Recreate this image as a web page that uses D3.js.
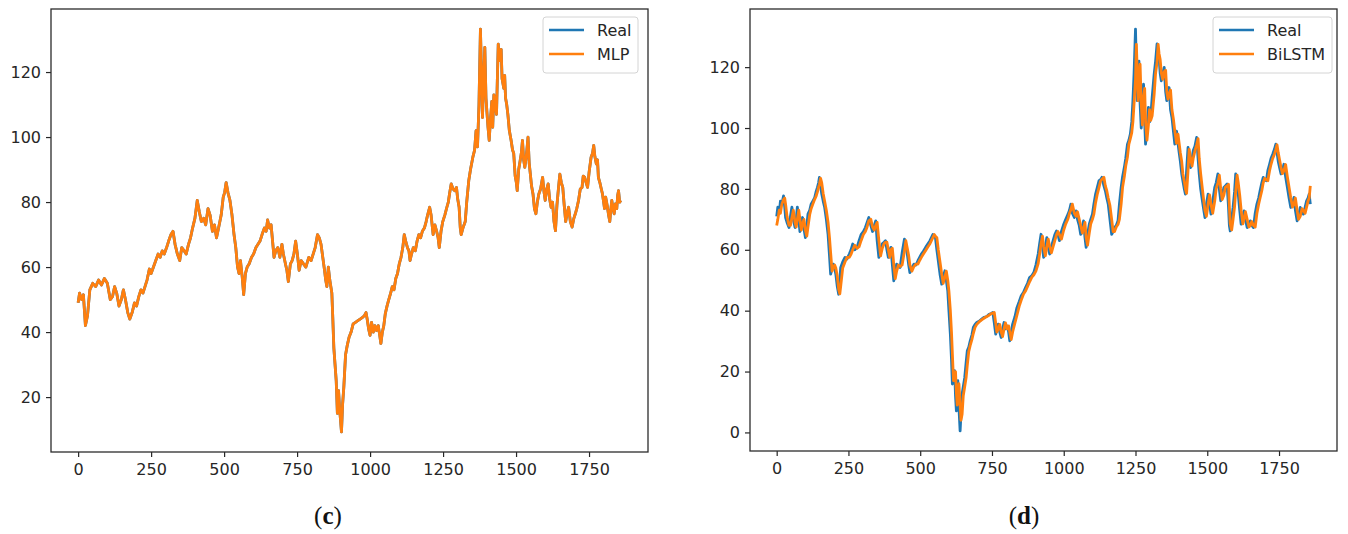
<!DOCTYPE html>
<html>
<head>
<meta charset="utf-8">
<script src="https://cdn.jsdelivr.net/npm/d3@7"></script>
<style>
  body { margin: 0; background: #fff; }
  .tick text { font-family: "DejaVu Sans", sans-serif; font-size: 16px; fill: #262626; }
  .tick line { stroke: #262626; stroke-width: 1.2; }
  .legend text { font-family: "DejaVu Sans", sans-serif; font-size: 16px; fill: #262626; }
  .caption { font-family: "Liberation Serif", serif; font-size: 25px; fill: #111; }
</style>
</head>
<body>
<svg id="chart" width="1348" height="534"></svg>
<script>
// panel (c): index, real price and MLP prediction (curves coincide at this scale)
var idxC = [0,5,12,18,25,32,40,50,60,70,80,90,100,110,118,125,132,140,148,155,162,170,177,185,193,200,208,215,222,229,236,244,250,258,266,274,281,288,295,303,310,318,325,332,340,348,355,363,370,378,385,392,400,408,415,422,430,437,445,452,460,467,474,481,490,497,502,507,513,520,527,534,540,546,551,556,562,567,573,579,586,594,601,609,616,623,630,638,644,649,655,661,666,671,677,684,691,698,703,710,715,720,727,733,739,745,751,757,764,772,780,790,798,805,812,820,826,832,838,844,848,852,857,862,869,872,876,880,884,888,892,896,902,906,910,913,916,922,928,935,942,950,958,966,974,980,986,990,995,1000,1005,1011,1016,1022,1028,1033,1037,1042,1047,1052,1058,1064,1070,1076,1082,1088,1094,1100,1106,1112,1117,1122,1128,1133,1137,1142,1148,1155,1161,1167,1173,1179,1186,1192,1197,1204,1209,1216,1222,1228,1233,1237,1243,1249,1256,1263,1268,1273,1278,1284,1290,1296,1300,1305,1309,1312,1318,1326,1331,1338,1344,1352,1358,1363,1368,1373,1378,1382,1385,1389,1393,1397,1400,1404,1408,1412,1417,1420,1424,1429,1433,1436,1439,1442,1445,1449,1452,1458,1461,1464,1468,1472,1477,1483,1488,1492,1497,1501,1504,1509,1514,1518,1522,1526,1530,1535,1541,1545,1549,1553,1558,1563,1568,1573,1578,1584,1591,1596,1600,1605,1610,1615,1620,1625,1630,1635,1640,1645,1650,1655,1660,1665,1670,1676,1680,1686,1692,1698,1703,1708,1714,1720,1726,1730,1735,1740,1745,1750,1757,1762,1766,1770,1775,1779,1782,1787,1792,1796,1800,1803,1807,1812,1817,1821,1825,1828,1832,1836,1840,1845,1848,1851,1855,1859];
var realC = [49,52,50,51.5,42,45,53,55,54,56,54.5,56.5,55,50,51,54,52,48,50,53,50,46,44,46,49,48,51,53,52,54,56,59.4,58,60,62,64,63,65,64,66,68,70,71,67,64,62,66,65,64,67,69,72,75,80.5,77,74,75,73,78,76,71,73,69,72,76,81.5,83,86,83,80.5,76,70,66,60,58,62,57,51.5,58,60,61,63,64,66,67,68,70,72,71,74.5,72,73,68,63,65,66,63,67,64,61,59,55.5,61,62,64,68,64,59,62,61,60,63,62,64,66,70,69,67,63,59,56,54,60,56,52,45,35,30,25,15,22,16,9.3,18,23,28,33,36,38.4,40,42.5,43,43.5,44,44.5,45,46,44,41,39,43,40,42,40.5,42,39,36.5,40,42,45.6,48,50,51.8,54,53,56.5,58,61,63,66,70,68,66,65,62,64,66,65,68,70,69,71,72,74,76,78.4,76,70,73,71,69,66,71,74,76,78.4,80,83,85.6,84,83.5,84.5,81,78.4,72,70,72,74,80,86.6,90,93.8,96,102,97,110,133.2,118,106,118,127.6,112,108,103,99,105,111,103,113,110,107,118,128.6,125,123.5,127,118,115,119,112,110,107,102,99,96,95,88,86,83.5,90,92.7,95,99,93,90.7,94,100,92,88.6,85,82.5,78,76.4,80,82.5,84,87.6,83,80.5,84,85.6,81,78.4,80,74,71.2,79,84,88.6,86,84.5,79,74,77,78.4,74,72.3,75,76.4,78,80.5,84,84.5,88,87.6,86,84.5,89,93.8,95,97.4,94,91.7,93,87.6,86,84,82.5,80,78,81.5,79,76,74,78,80.5,78,76.4,79.4,78,82,83.5,80,80.5];
var mlpC = [49,52,50,51.5,42,45,53,55,54,56,54.5,56.5,55,50,51,54,52,48,50,53,50,46,44,46,49,48,51,53,52,54,56,59.4,58,60,62,64,63,65,64,66,68,70,71,67,64,62,66,65,64,67,69,72,75,80.5,77,74,75,73,78,76,71,73,69,72,76,81.5,83,86,83,80.5,76,70,66,60,58,62,57,51.5,58,60,61,63,64,66,67,68,70,72,71,74.5,72,73,68,63,65,66,63,67,64,61,59,55.5,61,62,64,68,64,59,62,61,60,63,62,64,66,70,69,67,63,59,56,54,60,56,52,45,35,30,25,15,22,16,9.3,18,23,28,33,36,38.4,40,42.5,43,43.5,44,44.5,45,46,44,41,39,43,40,42,40.5,42,39,36.5,40,42,45.6,48,50,51.8,54,53,56.5,58,61,63,66,70,68,66,65,62,64,66,65,68,70,69,71,72,74,76,78.4,76,70,73,71,69,66,71,74,76,78.4,80,83,85.6,84,83.5,84.5,81,78.4,72,70,72,74,80,86.6,90,93.8,96,102,97,110,133.2,118,106,118,127.6,112,108,103,99,105,111,103,113,110,107,118,128.6,125,123.5,127,118,115,119,112,110,107,102,99,96,95,88,86,83.5,90,92.7,95,99,93,90.7,94,100,92,88.6,85,82.5,78,76.4,80,82.5,84,87.6,83,80.5,84,85.6,81,78.4,80,74,71.2,79,84,88.6,86,84.5,79,74,77,78.4,74,72.3,75,76.4,78,80.5,84,84.5,88,87.6,86,84.5,89,93.8,95,97.4,94,91.7,93,87.6,86,84,82.5,80,78,81.5,79,76,74,78,80.5,78,76.4,79.4,78,82,83.5,80,80.5];

// panel (d): index, real price and BiLSTM prediction
var idxD = [0,4,9,13,18,24,28,31,36,43,48,53,58,64,68,72,77,81,86,90,95,100,105,109,115,120,126,132,137,142,146,149,153,157,162,167,173,179,184,188,193,197,202,206,211,216,220,223,230,238,245,253,259,265,272,280,287,294,302,309,315,321,328,334,340,345,350,356,362,368,374,379,384,389,394,398,403,408,413,418,424,430,437,445,450,455,460,464,471,478,485,492,498,504,511,519,527,534,539,544,549,553,558,563,569,575,580,586,591,596,600,605,609,612,616,620,623,626,629,631,635,639,642,646,650,655,660,664,669,674,680,685,691,697,705,714,722,730,734,740,747,753,758,763,767,772,777,782,787,792,797,803,808,812,817,822,830,837,845,852,860,867,874,881,889,896,903,911,916,921,926,930,936,941,946,951,957,963,969,975,980,985,992,1000,1007,1015,1020,1025,1030,1037,1043,1048,1054,1059,1065,1069,1074,1078,1083,1089,1094,1100,1105,1111,1117,1123,1128,1133,1140,1145,1150,1155,1161,1167,1172,1177,1183,1189,1194,1200,1205,1211,1216,1222,1227,1232,1237,1241,1245,1250,1253,1256,1259,1262,1266,1270,1274,1278,1282,1285,1290,1295,1299,1303,1308,1315,1320,1325,1329,1332,1336,1340,1345,1350,1355,1359,1363,1367,1372,1377,1382,1387,1393,1398,1402,1406,1411,1415,1420,1424,1428,1433,1437,1442,1447,1451,1457,1463,1468,1472,1477,1483,1488,1492,1497,1503,1508,1513,1519,1526,1531,1537,1542,1547,1552,1558,1563,1569,1574,1577,1580,1585,1590,1595,1599,1604,1608,1613,1618,1624,1628,1633,1639,1645,1650,1655,1661,1667,1673,1679,1684,1690,1695,1700,1706,1711,1717,1722,1728,1734,1739,1743,1747,1752,1757,1762,1767,1773,1779,1785,1791,1797,1802,1807,1813,1818,1824,1830,1835,1841,1846,1851,1855,1859];
var realD = [71,74,72,76,75,77.7,74,70.6,69,67.3,71,74,70,67.3,70,74,70,66,69,70.6,67,64,68,71.7,73,75,76,77,79,80.5,82,83.8,81,78.3,76,74,70,65,58,52,54,55.3,54,52,48,45.4,50,54.2,56,57.5,57,58.6,60,61.9,60,60.8,63,65,66,67.3,69,70.6,68,66,68,69.5,63,57.5,60,62,62.5,63,60,57.5,60,60.8,55,49.8,53,55.3,54.5,54.2,59,63.5,61,58.6,55,52.5,54,55.3,55,56.4,57.5,58.6,59.5,60.8,62,63,64,65,64.5,64,60,56.4,52,48.7,51,53.1,50,46.5,40,32.3,24,15.9,18,20.3,12,7.1,13,17,8,0.5,6,12.6,15,18,23,26.8,28,30,32,34.5,35.5,36.1,36.5,37.2,37.8,38,38.3,38.8,39,39.4,36,32.3,34,35.6,33,31.2,34,36.1,34,35,33,30.1,33,35.6,38,41,43,44.9,46,47.6,49,50.9,51.5,52.6,55,58.6,62,65.1,61,57.5,61,64,61,58.6,61,63,65,66.2,65,63,66,68.4,70,71.7,73,75,72,70.6,72.8,70,68,65.1,67,69.5,64,60.8,65,68.4,70,71.7,75,78.3,80.5,82.7,83,83.8,81,79.4,77,75,70,65.1,66,67.3,68,69.5,75,80.5,84,87,90,94.7,96,98,102,109,118,132.5,120,109,115,122,108,100,110,114.4,102,94.7,100,106.8,102,103.5,110,117.7,122,127.6,124,123.2,118,115.5,118,119.9,112,109,111,113.3,106,103.5,99,94.7,99,95,92,89.2,85,82.7,80,78.3,86,93.6,90,87,90,92.5,94,96.9,90,84.9,80,76.1,73,70.6,75,78.3,75,71.7,76,80.5,82,84.9,80,76.1,78,80.5,81,81.6,74,68,66.2,70,74,79,84.9,82,78.3,73,68.4,70,72.8,70,67.3,68,69.5,68,67.3,72,75,77,79.4,82,83.8,83,82.7,86,88.1,90,91.4,93,94.7,92,89.2,87,84.9,86,88.1,84,80.5,77,73.9,75,77.2,73,69.5,71,73.9,73,71.7,74,76.1,77,78.3,75];
var bilstmD = [68,70,73,72,75,76.5,77,75,71,68,68,70.5,73,69,67.5,70,73,70,66.5,68.5,70,66.5,64.5,67.5,71.5,73.5,75,76.5,77.5,79,80.5,81.5,83.5,82,78.5,76,73,69,64,59,53,54,55,54,51.5,47,45.5,48,54,56,57.5,57.5,58.5,60,61.5,60.5,61,63,65,66,67.5,69.5,70,67.5,66.5,68,69,63,58,60.5,62,62.5,62.5,60,57.5,60,60.5,55,50.5,53,55,54.5,55,59.5,63,60.5,58,55,53,54.5,55.3,55.3,56.5,57.5,58.6,59.8,61,62,63,64,65,64.5,64,60,56,52,49,51,53,50,46.5,40,33,26,17,18,20,13,9,12,16,9,4,6,12,15,18,22,26.5,28.5,30.5,32.5,34.5,35.5,36.3,37,37.5,38,38.2,38.5,39,39.2,39.4,36,33,34,35.5,33,31.5,34,36,34,35,33,30.5,33,36,38.5,41.5,43.5,45.5,46.5,48,49.5,51,51.8,53,55.5,58.6,62,64.5,61,58,61,63.5,61,59,61,63,65,66,65,63.5,66.5,68.5,70.2,72,73.2,75,72,71,72.5,70,68,65.5,67,69,64,61.5,65.5,68.5,70,71.7,75.5,78.3,80.5,82.5,83.2,83.8,81,79.4,77,74.5,70,66,66,67.5,68.3,70,75,80.5,84,87.5,90.5,94.7,96.5,98.5,102,108,116,127.5,119,109,115,121,108,101,110,113,102,96,101,106,102.5,104,111,118,121.5,127.5,124.5,122.5,118,116,118.5,119,112,109.5,111,112.5,106,103,99,95,98,95,92,89,85,82.5,80,78.5,86,93,90,87.5,90,92.5,94.5,96.5,90,85,80,76,73,71,75,78,75,72,76,80,82,84.5,80,76.5,78,80.5,81,81.5,74,68.5,66.5,70,74,79,84.5,82,78,73,68.5,70,72.5,70,67.5,68,69.3,68,67.5,72,75,77,79.4,82,83.5,83,82.7,86,88,90,91.4,93,94.5,92,89.5,87,85,86,88,84,80.5,77,74,75,77,73,70,71,73.5,73,72,74,76,77,81];

var xTicks = [0, 250, 500, 750, 1000, 1250, 1500, 1750];
var yTicksC = [20, 40, 60, 80, 100, 120];
var yTicksD = [0, 20, 40, 60, 80, 100, 120];
var colors = ["#1f77b4", "#ff7f0e"];

var svg = d3.select("#chart");

function panel(box, idx, real, pred, predName, yTicks, legendBox, captionLetter, captionX) {
  var width = box.right - box.left,
      height = box.bottom - box.top;

  var g = svg.append("g")
      .attr("transform", "translate(" + box.left + "," + box.top + ")");

  // matplotlib style 5% padding on both axes
  var xExt = d3.extent(idx),
      yExt = d3.extent(real.concat(pred)),
      xPad = (xExt[1] - xExt[0]) * 0.05,
      yPad = (yExt[1] - yExt[0]) * 0.05;

  var x = d3.scaleLinear().domain([xExt[0] - xPad, xExt[1] + xPad]).range([0, width]);
  var y = d3.scaleLinear().domain([yExt[0] - yPad, yExt[1] + yPad]).range([height, 0]);

  g.append("g")
      .attr("transform", "translate(0," + height + ")")
      .call(d3.axisBottom(x).tickValues(xTicks).tickSize(5).tickPadding(7).tickFormat(d3.format("d")))
      .call(function(a) { a.select(".domain").remove(); a.attr("font-family", null).attr("font-size", null); });

  g.append("g")
      .call(d3.axisLeft(y).tickValues(yTicks).tickSize(5).tickPadding(5).tickFormat(d3.format("d")))
      .call(function(a) { a.select(".domain").remove(); a.attr("font-family", null).attr("font-size", null); });

  var line = d3.line()
      .x(function(d, i) { return x(idx[i]); })
      .y(function(d) { return y(d); });

  [real, pred].forEach(function(s, k) {
    g.append("path")
        .datum(s)
        .attr("fill", "none")
        .attr("stroke", colors[k])
        .attr("stroke-width", 2.8)
        .attr("stroke-linejoin", "round")
        .attr("d", line);
  });

  g.append("rect")
      .attr("width", width)
      .attr("height", height)
      .attr("fill", "none")
      .attr("stroke", "#2b2b2b")
      .attr("stroke-width", 1.3);

  // legend
  var lg = svg.append("g").attr("class", "legend")
      .attr("transform", "translate(" + legendBox.x + "," + legendBox.y + ")");
  lg.append("rect")
      .attr("width", legendBox.w)
      .attr("height", 56)
      .attr("rx", 3)
      .attr("fill", "#fff")
      .attr("fill-opacity", 0.8)
      .attr("stroke", "#d4d4d4")
      .attr("stroke-width", 1);
  ["Real", predName].forEach(function(name, k) {
    var yy = 13 + k * 24;
    lg.append("line")
        .attr("x1", 6).attr("x2", 41)
        .attr("y1", yy).attr("y2", yy)
        .attr("stroke", colors[k])
        .attr("stroke-width", 2.5);
    lg.append("text")
        .attr("x", 54)
        .attr("y", yy)
        .attr("dy", "0.36em")
        .text(name);
  });

  var cap = svg.append("text")
      .attr("class", "caption")
      .attr("x", captionX)
      .attr("y", 524)
      .attr("text-anchor", "middle");
  cap.append("tspan").text("(");
  cap.append("tspan").attr("font-weight", "bold").text(captionLetter);
  cap.append("tspan").text(")");
}

panel({left: 51, right: 648, top: 9, bottom: 452}, idxC, realC, mlpC, "MLP", yTicksC,
      {x: 543, y: 17, w: 95}, "c", 328);
panel({left: 750, right: 1337, top: 9, bottom: 451}, idxD, realD, bilstmD, "BiLSTM", yTicksD,
      {x: 1213, y: 17, w: 119}, "d", 1024);
</script>
</body>
</html>
